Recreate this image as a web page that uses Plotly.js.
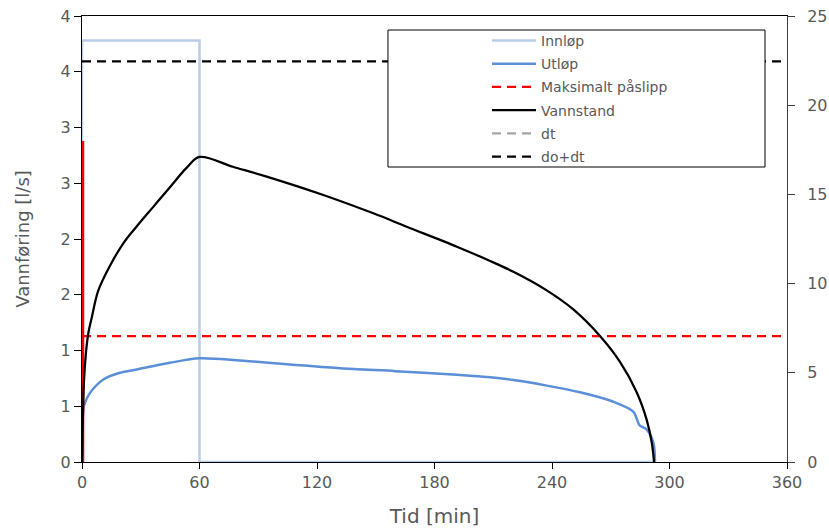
<!DOCTYPE html>
<html><head><meta charset="utf-8">
<script src="https://cdn.plot.ly/plotly-3.0.1.min.js"></script>
<style>html,body{margin:0;padding:0;background:#fff;overflow:hidden}</style>
</head><body><div id="chart" style="width:829px;height:529px"></div>
<script>
// ---- data ----
const innlopT = [0, 0, 60, 60, 293];
const innlopQ = [0, 3.78, 3.78, 0, 0];

const utlopT = [0, 0.7, 1.5, 4.1, 10.9, 19.4, 27.9, 44.9, 60, 80.7, 106.2, 131.8, 160, 185, 208.4, 220.3, 237.3, 254.3, 271.3, 281.6, 284.7, 288.4, 291.8, 292.6];
const utlopQ = [0, 0.48, 0.53, 0.62, 0.74, 0.80, 0.83, 0.89, 0.93, 0.91, 0.875, 0.84, 0.815, 0.79, 0.76, 0.735, 0.685, 0.625, 0.54, 0.45, 0.33, 0.29, 0.17, 0];

const vannstandT = [0, 1, 2, 3.2, 5, 8.3, 14.3, 21.1, 27.9, 36.4, 44.9, 53.5, 60, 77, 94.3, 123.2, 148.8, 165.8, 191.4, 208.4, 220.3, 237.3, 250.9, 264.6, 274.8, 283.3, 288.4, 291, 292.1];
const vannstandH = [0, 4.5, 6.1, 7.2, 8.1, 9.6, 11.0, 12.26, 13.2, 14.3, 15.4, 16.5, 17.1, 16.55, 16.0, 14.97, 13.94, 13.19, 12.07, 11.27, 10.66, 9.62, 8.55, 7.05, 5.6, 3.9, 2.35, 1.05, 0];

const maksT = [0, 360];
const maksQ = [1.13, 1.13];

const dtT = [null];
const dtH = [null];

const dodtT = [0, 360];
const dodtH = [22.45, 22.45];

const startT = [0, 0];
const startQ = [0, 2.88];

const xTicks = [0, 60, 120, 180, 240, 300, 360];
const yTicks = [0, 0.5, 1, 1.5, 2, 2.5, 3, 3.5, 4];
const yTickText = ['0', '1', '1', '2', '2', '3', '3', '4', '4'];
const y2Ticks = [0, 5, 10, 15, 20, 25];
const y2TickText = ['0', '5', '10', '15', '20', '25'];

// ---- chart ----
const FONT = 'DejaVu Sans';
const GREY = '#595959';

const traces = [
  {name: 'Innløp', x: innlopT, y: innlopQ, type: 'scatter', mode: 'lines',
   line: {color: '#b9cde8', width: 2.5}, legendgroup: 'a', yaxis: 'y'},
  {name: 'Utløp', x: utlopT, y: utlopQ, type: 'scatter', mode: 'lines',
   line: {color: '#5b8fd8', width: 2.5, shape: 'spline', smoothing: 0.8}, legendgroup: 'b', yaxis: 'y'},
  {name: 'Maksimalt påslipp', x: maksT, y: maksQ, type: 'scatter', mode: 'lines',
   line: {color: '#ff0000', width: 2.25, dash: '9px,6px'}, legendgroup: 'c', yaxis: 'y'},
  {name: 'start', x: startT, y: startQ, type: 'scatter', mode: 'lines',
   line: {color: '#ff0000', width: 4.5}, showlegend: false, legendgroup: 'z', yaxis: 'y'},
  {name: 'Vannstand', x: vannstandT, y: vannstandH, type: 'scatter', mode: 'lines',
   line: {color: '#000000', width: 2.25, shape: 'spline', smoothing: 1}, legendgroup: 'd', yaxis: 'y2'},
  {name: 'dt', x: dtT, y: dtH, type: 'scatter', mode: 'lines',
   line: {color: '#a6a6a6', width: 2.25, dash: '9px,6px'}, legendgroup: 'e', yaxis: 'y2'},
  {name: 'do+dt', x: dodtT, y: dodtH, type: 'scatter', mode: 'lines',
   line: {color: '#000000', width: 2.25, dash: '9px,6px'}, legendgroup: 'f', yaxis: 'y2'}
];

const layout = {
  width: 829, height: 529,
  margin: {l: 82, r: 42, t: 16, b: 67, pad: 0},
  paper_bgcolor: '#ffffff', plot_bgcolor: '#ffffff',
  font: {family: FONT, color: GREY, size: 16},
  showlegend: true,
  xaxis: {
    range: [0, 360], tickvals: xTicks, ticktext: xTicks.map(String),
    showgrid: false, zeroline: false, showline: true, linecolor: '#000', linewidth: 1, mirror: true,
    ticks: 'outside', ticklen: 6, tickcolor: '#000', tickwidth: 1,
    tickfont: {family: FONT, size: 16, color: GREY},
    title: {text: 'Tid [min]', font: {family: FONT, size: 20, color: GREY}, standoff: 17}
  },
  yaxis: {
    range: [0, 4], tickvals: yTicks, ticktext: yTickText,
    showgrid: false, zeroline: false, showline: true, linecolor: '#000', linewidth: 1,
    ticks: 'outside', ticklen: 7, tickcolor: '#000', tickwidth: 1,
    tickfont: {family: FONT, size: 16, color: GREY},
    title: {text: 'Vannføring [l/s]', font: {family: FONT, size: 18, color: GREY}, standoff: 26}
  },
  yaxis2: {
    range: [0, 25], tickvals: y2Ticks, ticktext: y2TickText, overlaying: 'y', side: 'right',
    showgrid: false, zeroline: false, showline: true, linecolor: '#404040', linewidth: 1,
    ticks: 'outside', ticklen: 7, tickcolor: '#404040', tickwidth: 1, ticklabelstandoff: 9,
    tickfont: {family: FONT, size: 16, color: GREY}
  },
  legend: {
    x: 0.5745, y: 0.98, xanchor: 'left', yanchor: 'top',
    bgcolor: 'rgba(0,0,0,0)', borderwidth: 0,
    font: {family: FONT, size: 14, color: GREY},
    tracegroupgap: 2, itemwidth: 44, traceorder: 'grouped'
  },
  shapes: [
    {type: 'rect', xref: 'paper', yref: 'paper', x0: 0.434, x1: 0.9688, y0: 0.6614, y1: 0.9686,
     line: {color: '#000', width: 1}, fillcolor: '#ffffff', layer: 'above'}
  ]
};

Plotly.newPlot('chart', traces, layout, {displayModeBar: false, staticPlot: true});
</script>
</body></html>
